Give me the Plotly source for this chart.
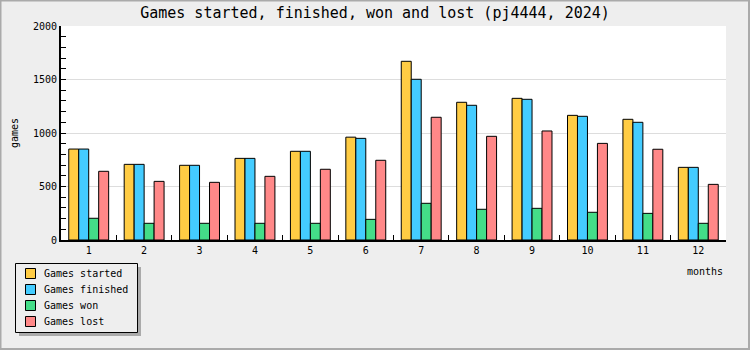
import plotly.graph_objects as go

months = ["1", "2", "3", "4", "5", "6", "7", "8", "9", "10", "11", "12"]
games_started = [850, 707, 698, 763, 829, 961, 1670, 1287, 1324, 1165, 1128, 679]
games_finished = [850, 707, 698, 763, 829, 950, 1502, 1259, 1315, 1156, 1100, 679]
games_won = [203, 156, 156, 156, 156, 193, 343, 287, 296, 259, 249, 156]
games_lost = [642, 548, 539, 595, 661, 745, 1147, 969, 1019, 903, 848, 520]

series_names = ["Games started", "Games finished", "Games won", "Games lost"]
series_values = [games_started, games_finished, games_won, games_lost]
series_colors = ["#ffcc44", "#44ccff", "#44dd88", "#ff8888"]

FONT = "DejaVu Sans Mono"
W, H = 750, 350
L, R, T, B = 61, 24, 26, 110
PW, PH = W - L - R, H - T - B


def px(x):
    return (x - L) / PW


def py(y):
    return (H - B - y) / PH


fig = go.Figure()
for name, vals, col in zip(series_names, series_values, series_colors):
    fig.add_trace(go.Bar(
        x=months, y=vals, name=name,
        marker=dict(color=col, line=dict(color="black", width=1)),
        showlegend=False,
    ))

shapes = []
annotations = []
# outer border
shapes.append(dict(type="rect", xref="paper", yref="paper",
                   x0=px(0.5), x1=px(W - 1), y0=py(H - 1), y1=py(0.5),
                   line=dict(color="#aaaaaa", width=2), fillcolor="rgba(0,0,0,0)", layer="above"))
# legend shadow & box
shapes.append(dict(type="rect", xref="paper", yref="paper",
                   x0=px(19), x1=px(141), y0=py(336), y1=py(267),
                   line=dict(width=0), fillcolor="#aaaaaa", layer="above"))
shapes.append(dict(type="rect", xref="paper", yref="paper",
                   x0=px(15.5), x1=px(137.5), y0=py(332.5), y1=py(263.5),
                   line=dict(color="black", width=1), fillcolor="#eeeeee", layer="above"))
for i, (name, col) in enumerate(zip(series_names, series_colors)):
    cy = 273.5 + 16 * i
    shapes.append(dict(type="rect", xref="paper", yref="paper",
                       x0=px(25.5), x1=px(35.5), y0=py(cy + 5), y1=py(cy - 5),
                       line=dict(color="black", width=1), fillcolor=col, layer="above"))
    annotations.append(dict(text=name, xref="paper", yref="paper", x=px(42), y=py(cy),
                            xanchor="left", yanchor="middle", showarrow=False,
                            font=dict(family=FONT, size=10, color="black")))

annotations.append(dict(text="months", xref="paper", yref="paper", x=px(725), y=py(271),
                        xanchor="right", yanchor="middle", showarrow=False,
                        font=dict(family=FONT, size=10, color="black")))
annotations.append(dict(text="games", xref="paper", yref="paper", x=px(14), y=py(133),
                        xanchor="center", yanchor="middle", showarrow=False, textangle=-90,
                        font=dict(family=FONT, size=10, color="black")))

fig.update_layout(
    width=W, height=H,
    margin=dict(l=L, r=R, t=T, b=B, pad=0),
    paper_bgcolor="#eeeeee",
    plot_bgcolor="white",
    barmode="group",
    bargap=0.28,
    bargroupgap=0,
    title=dict(text="Games started, finished, won and lost (pj4444, 2024)",
               x=0.5, xref="container", xanchor="center", y=1 - 13 / H, yanchor="middle",
               font=dict(family=FONT, size=15, color="black")),
    font=dict(family=FONT, size=10, color="black"),
    shapes=shapes,
    annotations=annotations,
    xaxis=dict(
        type="category", showline=True, linecolor="black", linewidth=2,
        ticks="inside", ticklen=5, tickcolor="black", tickwidth=1,
        tickson="boundaries", showgrid=False, zeroline=False,
        tickfont=dict(family=FONT, size=10, color="black"),
    ),
    yaxis=dict(
        range=[0, 2000], tickvals=[0, 500, 1000, 1500, 2000],
        showline=True, linecolor="black", linewidth=2,
        ticks="inside", ticklen=5, tickcolor="black", tickwidth=1,
        minor=dict(dtick=100, ticks="inside", ticklen=5, tickcolor="black", showgrid=False),
        showgrid=True, gridcolor="#dddddd", gridwidth=1, zeroline=False,
        tickfont=dict(family=FONT, size=10, color="black"),
    ),
)

fig.write_html("out.html")
